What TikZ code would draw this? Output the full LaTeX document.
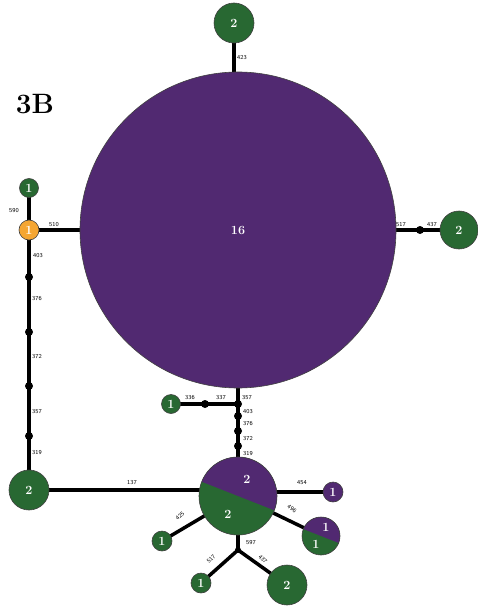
\documentclass[tikz,border=0pt]{standalone}
\usepackage{tikz}
\usepackage{xcolor}
\usetikzlibrary{positioning,backgrounds}

\begin{document}
\begin{tikzpicture}[x=1pt,y=-1pt,
  hapnode/.style={circle,draw=black!75,line width=0.6pt,inner sep=0pt,text=white,font=\bfseries\fontsize{12.5}{12.5}\selectfont},
  splitnode/.style={hapnode,fill=hapgreen,path picture={
      \fill[happurple] ([shift={(21.5:80)}]path picture bounding box.center)
        -- ([shift={(-68.5:80)}]path picture bounding box.center)
        -- ([shift={(201.5:80)}]path picture bounding box.center) -- cycle;}},
  numtxt/.style={text=white,font=\bfseries\fontsize{12.5}{12.5}\selectfont,inner sep=0pt},
  dotnode/.style={circle,fill=black,inner sep=0pt,minimum size=8},
  lbl/.style={font=\sffamily\fontsize{6}{6}\selectfont,inner sep=0pt},
  link/.style={line width=3.5pt}]
\definecolor{hapgreen}{HTML}{286832}
\definecolor{happurple}{HTML}{512971}
\definecolor{haporange}{HTML}{F5A632}
\useasboundingbox (0,0) rectangle (477,607);

\node[font=\bfseries\fontsize{28}{28}\selectfont] (title) at (35,104) {3B};

% haplotypes
\node[hapnode,fill=happurple,minimum size=316] (big) at (238,230) {16};
\node[hapnode,fill=hapgreen,minimum size=40] (top) at (234,23) {2};
\node[hapnode,fill=hapgreen,minimum size=19] (lg) at (29,188) {1};
\node[hapnode,fill=haporange,minimum size=20] (orng) at (29,230) {1};
\node[hapnode,fill=hapgreen,minimum size=40] (bl) at (29,490) {2};
\node[hapnode,fill=hapgreen,minimum size=38] (rg) at (459,230) {2};
\node[hapnode,fill=hapgreen,minimum size=19] (mg) at (171,404) {1};
\node[splitnode,minimum size=78] (mix) at (238,496) {};
\node[hapnode,fill=happurple,minimum size=20] (pr) at (333,492) {1};
\node[splitnode,minimum size=38] (smix) at (321,536) {};
\node[hapnode,fill=hapgreen,minimum size=20] (g425) at (162,541) {1};
\node[hapnode,fill=hapgreen,minimum size=20] (g517) at (201,583) {1};
\node[hapnode,fill=hapgreen,minimum size=40] (g437) at (287,585) {2};

\node[numtxt] (mixp) at ([shift={(9,-17)}]mix.center) {2};
\node[numtxt] (mixg) at ([shift={(-10,18)}]mix.center) {2};
\node[numtxt] (smixp) at ([shift={(5,-9)}]smix.center) {1};
\node[numtxt] (smixg) at ([shift={(-5,8)}]smix.center) {1};

% median vectors
\foreach \py [count=\i] in {277,332,386,436}
  \node[dotnode] (ld\i) at (29,\py) {};
\foreach \py [count=\i] in {416,431,446}
  \node[dotnode] (md\i) at (238,\py) {};
\node[dotnode] (rd) at (420,230) {};
\node[dotnode] (mj) at (238,404) {};
\node[dotnode] (ms) at (205,404) {};
\node[dotnode,minimum size=6] (bj) at (238,550) {};

% connectors
\begin{scope}[on background layer]
\draw[link] (top.center) -- (top.center |- big.center);
\draw[link] (lg.center) -- (orng.center) -- (big.center);
\draw[link] (orng.center) -- (ld1.center) -- (ld2.center) -- (ld3.center) -- (ld4.center) -- (bl.center);
\draw[link] (bl.center) -- (bl.center -| mix.center);
\draw[link] (big.center) -- (rd.center) -- (rg.center);
\draw[link] (big.center) -- (mj.center) -- (md1.center) -- (md2.center) -- (md3.center) -- (mix.center);
\draw[link] (mj.center) -- (ms.center) -- (mg.center);
\draw[link] (pr.center) -- (pr.center -| mix.center);
\draw[link] (mix.center) -- (smix.center);
\draw[link] (mix.center) -- (g425.center);
\draw[link] (mix.center) -- (bj.center);
\draw[link] (bj.center) -- (g517.center);
\draw[link] (bj.center) -- (g437.center);
\end{scope}

% mutation labels
\foreach \txt/\px/\py [count=\i] in {423/242/58,590/14/211,510/54/225,403/38/256,376/37/299,372/37/357,357/37/412,319/37/453,
    517/401/225,437/432/225,336/190/398,337/221/398,357/247/398,403/248/412,376/248/424,372/248/439,319/248/454,
    137/132/483,454/302/483,597/251/543}
  \node[lbl] (lbl\i) at (\px,\py) {\txt};
\node[lbl,rotate=-35] (lbl496) at (292,509) {496};
\node[lbl,rotate=40] (lbl425) at (180,516) {425};
\node[lbl,rotate=45] (lbl517) at (211,559) {517};
\node[lbl,rotate=-45] (lbl437) at (263,559) {437};
\end{tikzpicture}
\end{document}
